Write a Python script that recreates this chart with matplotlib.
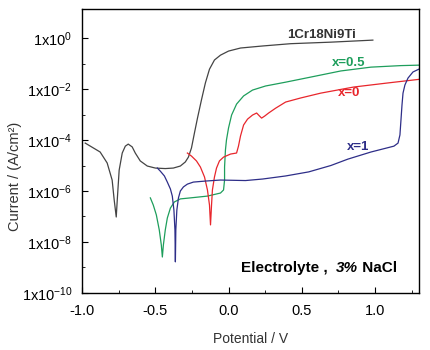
import numpy as np
import matplotlib
matplotlib.use("Agg")
import matplotlib.pyplot as plt
from matplotlib.ticker import FuncFormatter, NullFormatter
from matplotlib.offsetbox import TextArea, HPacker, AnchoredOffsetbox

plt.rcParams['font.family'] = ['Liberation Sans', 'DejaVu Sans']
plt.rcParams['mathtext.fontset'] = 'custom'
plt.rcParams['mathtext.rm'] = 'Liberation Sans'

# potential (V) and log10 of current density (A/cm2)
ss_e = [-0.979, -0.877, -0.829, -0.795, -0.781, -0.767, -0.760, -0.747, -0.726,
        -0.705, -0.685, -0.658, -0.637, -0.603, -0.555, -0.500, -0.432, -0.377,
        -0.329, -0.295, -0.274, -0.253, -0.233, -0.212, -0.185, -0.158, -0.130,
        -0.096, -0.055, 0.000, 0.082, 0.233, 0.425, 0.699, 0.986]
ss_logi = [-4.12, -4.47, -4.90, -5.57, -6.35, -7.02, -6.35, -5.18, -4.51,
           -4.24, -4.16, -4.27, -4.51, -4.82, -5.02, -5.10, -5.12, -5.10,
           -5.02, -4.86, -4.67, -4.31, -3.73, -3.14, -2.43, -1.76, -1.22,
           -0.86, -0.67, -0.51, -0.39, -0.31, -0.22, -0.16, -0.08]

x05_e = [-0.534, -0.514, -0.493, -0.473, -0.459, -0.452, -0.445, -0.432, -0.418,
         -0.397, -0.370, -0.329, -0.260, -0.144, -0.055, -0.034, -0.027, -0.027,
         -0.021, -0.014, 0.000, 0.021, 0.055, 0.103, 0.164, 0.253, 0.390, 0.562,
         0.767, 0.973, 1.178, 1.315]
x05_logi = [-6.27, -6.55, -6.94, -7.53, -8.12, -8.59, -8.12, -7.53, -7.06,
            -6.67, -6.43, -6.31, -6.27, -6.20, -6.08, -5.96, -5.57, -5.06,
            -4.39, -4.00, -3.53, -3.02, -2.59, -2.27, -2.04, -1.88, -1.73, -1.53,
            -1.29, -1.14, -1.08, -1.06]

x0_e = [-0.281, -0.253, -0.219, -0.192, -0.164, -0.144, -0.130, -0.123, -0.116,
        -0.110, -0.096, -0.082, -0.062, -0.034, 0.014, 0.055, 0.068, 0.082,
        0.103, 0.130, 0.164, 0.192, 0.212, 0.226, 0.247, 0.274, 0.322, 0.390,
        0.493, 0.630, 0.856, 1.089, 1.315]
x0_logi = [-4.51, -4.63, -4.82, -5.06, -5.45, -5.96, -6.55, -7.33, -6.55,
           -5.96, -5.45, -5.10, -4.82, -4.67, -4.55, -4.51, -4.24, -3.84,
           -3.41, -3.18, -3.02, -2.94, -3.06, -3.14, -3.06, -2.94, -2.75, -2.51,
           -2.35, -2.16, -1.92, -1.76, -1.61]

x1_e = [-0.486, -0.466, -0.438, -0.418, -0.397, -0.384, -0.373, -0.366, -0.363,
        -0.360, -0.353, -0.342, -0.329, -0.308, -0.281, -0.240, -0.158, -0.055,
        0.116, 0.233, 0.390, 0.548, 0.699, 0.815, 0.973, 1.130, 1.158, 1.171,
        1.178, 1.185, 1.192, 1.205, 1.226, 1.260, 1.315]
x1_logi = [-5.10, -5.22, -5.41, -5.65, -5.92, -6.20, -6.75, -7.53, -8.78,
           -7.53, -6.75, -6.27, -6.00, -5.84, -5.73, -5.65, -5.61, -5.57,
           -5.59, -5.53, -5.41, -5.25, -5.00, -4.75, -4.47, -4.24, -4.12, -3.80,
           -3.22, -2.63, -2.16, -1.84, -1.57, -1.33, -1.18]

series = [
    (ss_e, ss_logi, '#444444', '1Cr18Ni9Ti', 0.637, 0.12),
    (x05_e, x05_logi, '#1e9e5c', 'x=0.5', 0.822, -0.98),
    (x0_e, x0_logi, '#e8262c', 'x=0', 0.822, -2.16),
    (x1_e, x1_logi, '#2e2e88', 'x=1', 0.884, -4.27),
]

fig = plt.figure(figsize=(4.3, 3.5), dpi=100)
ax = fig.add_axes([0.191, 0.163, 0.783, 0.811])

for e, li, col, lab, tx, ty in series:
    ax.plot(e, 10 ** np.array(li), color=col, lw=0.9)
    tcol = '#333333' if lab == '1Cr18Ni9Ti' else col
    ax.text(tx, 10 ** ty, lab, color=tcol, fontsize=9.5, fontweight='bold',
            ha='center', va='center')

ax.set_yscale('log')
ax.set_xlim(-1.0, 1.3)
ax.set_ylim(1e-10, 10 ** 1.137)

ax.set_xticks([-1.0, -0.5, 0.0, 0.5, 1.0])
ax.set_xticks([-0.75, -0.25, 0.25, 0.75, 1.25], minor=True)
ax.xaxis.set_major_formatter(FuncFormatter(lambda v, p: '%.1f' % v))

ax.set_yticks([10.0 ** k for k in range(-10, 1, 2)])
ax.set_yticks([10.0 ** k for k in range(-9, 1, 2)], minor=True)
ax.yaxis.set_major_formatter(
    FuncFormatter(lambda v, p: r'$\mathregular{1x10^{%d}}$' % round(np.log10(v))))
ax.yaxis.set_minor_formatter(NullFormatter())

ax.tick_params(which='major', direction='in', length=4, width=0.8, labelsize=10.5)
ax.tick_params(axis='x', which='major', pad=8)
ax.tick_params(axis='y', which='major', pad=7)
ax.tick_params(which='minor', direction='in', length=2, width=0.6)
for s in ax.spines.values():
    s.set_linewidth(1.0)

ax.set_xlabel('Potential / V', fontsize=10, color='#333333')
ax.set_ylabel('Current / (A/cm²)', fontsize=10.5, color='#333333')
ax.xaxis.set_label_coords(0.5, -0.137)
ax.yaxis.set_label_coords(-0.178, 0.41)

tp = dict(fontsize=11, fontweight='bold', color='black')
parts = [TextArea('Electrolyte ,  ', textprops=tp),
         TextArea('3%', textprops=dict(tp, fontstyle='italic')),
         TextArea(' NaCl', textprops=tp)]
box = HPacker(children=parts, pad=0, sep=0, align='baseline')
anch = AnchoredOffsetbox(loc='center', child=box, frameon=False,
                         bbox_to_anchor=(0.703, 0.088), bbox_transform=ax.transAxes,
                         pad=0, borderpad=0)
ax.add_artist(anch)

fig.savefig('out.png', dpi=100)
